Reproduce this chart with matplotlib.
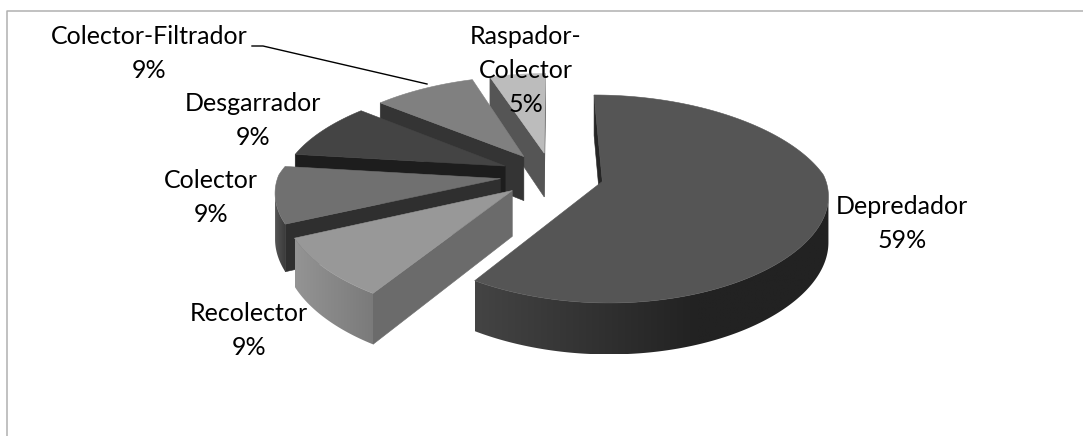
import numpy as np
import matplotlib
matplotlib.use('Agg')
import matplotlib.pyplot as plt
from matplotlib.patches import Polygon

# slices, clockwise from twelve o'clock
categories = ['Depredador', 'Recolector', 'Colector', 'Desgarrador',
              'Colector-Filtrador', 'Raspador-\nColector']
shares = [59, 9, 9, 9, 9, 5]

# greys per slice: top face, radial wall, outer wall left end, outer wall right end
top_colors = ['#555555', '#989898', '#707070', '#444444', '#808080', '#bcbcbc']
side_colors = ['#262626', '#6b6b6b', '#2f2f2f', '#1d1d1d', '#343434', '#555555']
arc_left = ['#444444', '#949494', '#555555', '#2a2a2a', '#3c3c3c', '#666666']
arc_right = ['#222222', '#7a7a7a', '#3a3a3a', '#1d1d1d', '#333333', '#555555']

label_x = [902, 249, 211, 253, 149, 526]
label_y = [206, 313, 180, 103, 37, 36]

# projection of the pie plane onto the canvas, in pixels
cx, cy = 552, 175
radius = 222
explode = 52
tilt = 0.44
depth = 45


def project(x, y, drop=0.0):
    # foreshortening is stronger towards the back of the pie
    fx = 1 / (1 + (0.0009 if y > 0 else 0.00053) * y)
    fy = 1 / (1 + (0.00068 if y > 0 else 0.00079) * y)
    fd = 1 / (1 + 0.00053 * y)
    return cx + x * fx, cy - tilt * y * fy + drop * fd


def quad(p0, p1, drop):
    # wall between two plane points, from the top face down
    return [project(*p0), project(*p1), project(*p1, drop), project(*p0, drop)]


def signed_area(pts):
    xs, ys = np.array(pts).T
    return 0.5 * np.sum(xs * np.roll(ys, -1) - np.roll(xs, -1) * ys)


def add_wall(ax, pts, color, z):
    # y runs downward on this canvas, so walls facing the viewer have negative area
    if signed_area(pts) < 0:
        ax.add_patch(Polygon(pts, closed=True, facecolor=color, edgecolor=color,
                             linewidth=0.4, zorder=z))


def add_arc_wall(ax, rim, left, right, z, bend):
    # keep the run of rim points whose wall faces the viewer, fill it with a gradient
    keep = [k for k in range(len(rim) - 1) if signed_area(quad(rim[k], rim[k + 1], depth)) < 0]
    if not keep:
        return
    run = rim[keep[0]:keep[-1] + 2]
    outline = [project(*p) for p in run] + [project(*p, depth) for p in run[::-1]]
    xs = np.array(outline)[:, 0]
    ys = np.array(outline)[:, 1]
    t = np.clip(np.linspace(0, 1, 256) * bend, 0, 1)
    c0 = np.array(matplotlib.colors.to_rgb(left))
    c1 = np.array(matplotlib.colors.to_rgb(right))
    grad = (c0 + (c1 - c0) * t[:, None])[None, :, :]
    im = ax.imshow(grad, extent=(xs.min(), xs.max(), ys.max(), ys.min()),
                   aspect='auto', zorder=z, interpolation='bilinear')
    patch = Polygon(outline, closed=True, transform=ax.transData, facecolor='none', edgecolor='none')
    ax.add_patch(patch)
    im.set_clip_path(patch)


fig = plt.figure(figsize=(10.83, 4.36), dpi=100)
ax = fig.add_axes([0, 0, 1, 1])
plt.rcParams['font.family'] = ['Lato', 'DejaVu Sans']

# chart frame, open at the bottom and right
ax.plot([6.5, 6.5, 1083], [436, 11.5, 11.5], color='#b0b0b0', lw=1.1, zorder=1)

angles = np.concatenate([[0], np.cumsum(shares)]) / np.sum(shares) * 2 * np.pi
mids = (angles[:-1] + angles[1:]) / 2
# paint from the back of the pie to the front
order = [5, 4, 3, 2, 1, 0]

for rank, i in enumerate(order):
    a0, a1 = angles[i], angles[i + 1]
    ox, oy = explode * np.sin(mids[i]), explode * np.cos(mids[i])
    th = np.linspace(a0, a1, max(int(np.degrees(a1 - a0) * 1.5), 12))
    rim = [(ox + radius * np.sin(t), oy + radius * np.cos(t)) for t in th]
    apex = (ox, oy)
    z = 10 + rank * 4

    add_wall(ax, quad(apex, rim[0], depth), side_colors[i], z)
    add_wall(ax, quad(rim[-1], apex, depth), side_colors[i], z)
    add_arc_wall(ax, rim, arc_left[i], arc_right[i], z + 1, 1.6 if i == 0 else 1.0)

    top = [project(*apex)] + [project(*p) for p in rim]
    ax.add_patch(Polygon(top, closed=True, facecolor=top_colors[i],
                         edgecolor=top_colors[i], linewidth=0.4, zorder=z + 2))

# leader line for the Colector-Filtrador label
ax.plot([252, 263, 427], [46, 46, 84], color='black', lw=1.0, zorder=50)

for name, share, lx, ly in zip(categories, shares, label_x, label_y):
    lines = name.split('\n') + [f'{share}%']
    for n, line in enumerate(lines):
        ax.text(lx, ly + n * 34, line, ha='center', va='center', fontsize=18,
                color='black', zorder=60)

ax.set_xlim(0, 1083)
ax.set_ylim(436, 0)
ax.axis('off')
fig.savefig('out.png', dpi=100)
